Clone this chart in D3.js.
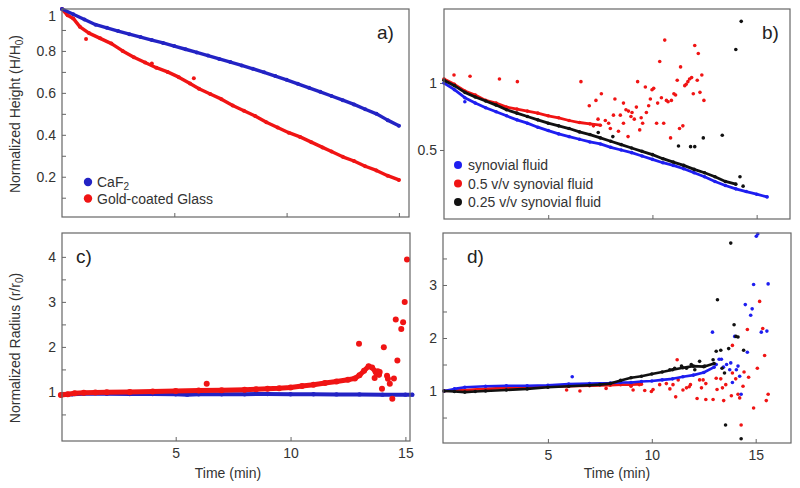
<!DOCTYPE html>
<html><head><meta charset="utf-8">
<script src="https://cdn.jsdelivr.net/npm/d3@7"></script>
<style>
html,body{margin:0;padding:0;background:#fff;}
svg{display:block;font-family:"Liberation Sans",Arial,sans-serif;}
</style></head>
<body><svg id="chart" width="800" height="488"></svg>
<script>
// ---------- DATA (time in min, normalized value) ----------
// Panel a: height
const aCaF2 = [[0,1.0],[0.5,0.975],[1,0.95],[1.5,0.925],[2,0.91],[2.5,0.895],[3,0.88],[3.5,0.866],[4,0.852],[4.5,0.838],[5,0.823],[5.5,0.808],[6,0.793],[6.5,0.778],[7,0.762],[7.5,0.747],[8,0.731],[8.5,0.715],[9,0.698],[9.5,0.68],[10,0.662],[10.5,0.643],[11,0.624],[11.5,0.605],[12,0.585],[12.5,0.565],[13,0.545],[13.5,0.522],[14,0.5],[14.5,0.47],[15,0.443]];
const aGold = [[0,1.0],[0.25,0.97],[0.5,0.955],[0.8,0.915],[1.2,0.885],[1.7,0.86],[2.2,0.835],[2.7,0.8],[3.2,0.77],[3.7,0.745],[4.2,0.72],[4.7,0.7],[5.2,0.675],[5.7,0.645],[6.1,0.62],[6.6,0.595],[7.1,0.57],[7.6,0.54],[8.1,0.515],[8.6,0.49],[9.1,0.46],[9.6,0.435],[10.1,0.41],[10.6,0.39],[11.1,0.365],[11.6,0.34],[12,0.32],[12.5,0.295],[13,0.275],[13.5,0.25],[14,0.23],[14.5,0.205],[15,0.185]];
const aGoldScatter = [[1.07,0.857],[4.0,0.74],[5.87,0.67]];

// Panel b: height, synovial fluid dilutions
const bSyn = [[0,1.0],[0.5,0.95],[1,0.89],[1.5,0.85],[2,0.815],[2.5,0.785],[3,0.755],[3.5,0.725],[4,0.7],[4.5,0.67],[5,0.645],[5.5,0.62],[6,0.6],[6.5,0.58],[7,0.56],[7.5,0.545],[8,0.52],[8.5,0.5],[9,0.48],[9.5,0.455],[10,0.43],[10.5,0.405],[11,0.385],[11.5,0.36],[12,0.33],[12.5,0.3],[13,0.265],[13.5,0.235],[14,0.21],[14.5,0.19],[15,0.17],[15.5,0.15]];
const bSynScatter = [[1.0,0.86]];
const bHalf = [[0,1.03],[0.5,0.99],[1,0.94],[1.5,0.91],[2,0.87],[2.5,0.85],[3,0.82],[3.5,0.805],[4,0.79],[4.5,0.775],[5,0.755],[5.5,0.74],[6,0.72],[6.5,0.705],[7,0.695],[7.5,0.685]];
const bHalfScatter = [[0.48,1.06],[1.25,1.05],[2.66,1.03],[3.52,1.01],[6.57,1.01],[6.97,0.83],[7.29,0.87],[7.55,0.92],[7.39,0.73],[7.17,0.68],[7.74,0.72],[7.9,0.7],[7.98,0.66],[8.13,0.76],[8.2,0.88],[8.37,0.64],[8.46,0.76],[8.61,0.85],[8.61,0.7],[8.73,0.8],[8.85,0.79],[9.02,0.78],[8.83,0.6],[8.97,0.75],[9.13,0.73],[9.23,0.82],[9.29,1.01],[9.46,0.74],[9.39,0.65],[9.53,0.7],[9.66,0.97],[9.71,0.78],[9.82,0.83],[9.9,0.88],[9.98,0.95],[10.06,0.96],[10.2,0.7],[10.25,0.85],[10.35,1.16],[10.43,0.89],[10.54,0.7],[10.59,1.32],[10.67,0.87],[10.75,0.86],[10.87,0.59],[10.91,0.87],[11.03,0.92],[11.11,0.91],[11.19,1.02],[11.3,0.66],[11.35,1.12],[11.46,0.68],[11.55,0.98],[11.62,0.99],[11.7,1.01],[11.78,1.03],[11.88,1.04],[11.96,0.92],[12.03,1.28],[12.15,1.02],[12.2,1.22],[12.28,0.93],[12.37,1.06],[12.47,0.87]];
const bQuarter = [[0,1.02],[0.5,0.98],[1,0.93],[1.5,0.895],[2,0.865],[2.5,0.835],[3,0.8],[3.5,0.775],[4,0.75],[4.5,0.725],[5,0.7],[5.5,0.68],[6,0.66],[6.5,0.635],[7,0.615],[7.5,0.59],[8,0.565],[8.5,0.54],[9,0.515],[9.5,0.49],[10,0.465],[10.5,0.435],[11,0.41],[11.5,0.385],[12,0.355],[12.5,0.33],[13,0.3],[13.5,0.265],[14,0.245]];
const bQuarterScatter = [[14.26,1.46],[14.0,1.25],[13.35,0.61],[12.44,0.59],[11.25,0.53],[11.83,0.525],[12.03,0.525],[14.2,0.3],[14.35,0.23],[7.4,0.63],[8.1,0.6]];

// Panel c: radius
const cCaF2 = [[0,0.93],[0.5,0.95],[1,0.96],[2,0.96],[3,0.955],[4,0.955],[5,0.95],[5.5,0.94],[6,0.95],[7,0.95],[8,0.95],[9,0.955],[10,0.95],[11,0.95],[12,0.945],[13,0.945],[14,0.94],[15,0.94],[15.3,0.94]];
const cGold = [[0,0.93],[0.3,0.95],[0.6,0.97],[1,0.98],[1.5,0.99],[2,0.995],[3,1.0],[4,1.01],[5,1.02],[6,1.03],[7,1.04],[8,1.05],[8.5,1.06],[9,1.07],[9.5,1.08],[10,1.1],[10.5,1.13],[11,1.16],[11.5,1.2],[12,1.23],[12.5,1.27],[12.8,1.3],[13,1.37],[13.2,1.47],[13.4,1.57],[13.55,1.54],[13.7,1.45],[13.85,1.38]];
const cGoldScatter = [[6.35,1.18],[12.98,2.07],[13.66,1.31],[13.88,1.44],[14.06,1.99],[13.98,1.07],[14.2,1.36],[14.24,1.29],[14.32,1.18],[14.43,0.85],[14.5,1.3],[14.65,1.7],[14.58,2.61],[14.82,2.4],[14.9,2.55],[14.97,3.0],[15.07,3.94],[13.75,1.4],[13.8,1.46]];

// Panel d: radius, synovial fluid dilutions
const dSyn = [[0,1.0],[0.5,1.04],[1,1.07],[2,1.09],[3,1.1],[4,1.1],[5,1.11],[6,1.13],[7,1.14],[8,1.15],[8.5,1.16],[9,1.16],[9.5,1.18],[10,1.19],[10.5,1.21],[11,1.23],[11.5,1.27],[12,1.3],[12.5,1.35],[13,1.45]];
const dSynScatter = [[6.17,1.27],[12.92,2.11],[15.03,3.92],[15.1,3.96],[14.9,3.01],[15.6,3.02],[14.5,2.63],[14.83,2.55],[14.76,2.43],[15.27,2.11],[15.54,2.13],[13.99,2.03],[14.6,1.73],[13.24,1.6],[13.35,1.6],[13.6,1.5],[13.8,1.53],[13.75,1.4],[14.07,1.4],[14.15,1.47],[14.23,1.28],[13.88,1.16],[14.3,0.94],[13.1,1.5],[13.45,1.45]];
const dHalf = [[0,1.0],[1,1.02],[2,1.04],[3,1.06],[4,1.07],[5,1.08],[6,1.09],[7,1.1],[8,1.11],[8.5,1.12],[9,1.12],[9.5,1.13]];
const dHalfScatter = [[11.22,1.59],[11.15,0.89],[12.18,0.86],[12.6,0.84],[12.95,0.84],[9.66,1.01],[9.98,0.99],[10.87,1.04],[11.67,1.06],[11.86,1.12],[12.39,1.06],[11.02,1.12],[15.19,2.69],[14.6,2.16],[15.34,2.18],[13.88,1.86],[15.43,1.67],[15.08,1.43],[13.88,1.34],[14.44,1.36],[14.66,1.26],[13.32,1.23],[14.04,1.23],[14.39,1.09],[13.56,1.12],[13.4,1.06],[13.14,1.03],[14.15,0.94],[15.6,0.94],[14.23,0.87],[13.83,0.91],[13.46,0.82],[15.51,0.82],[14.9,0.68],[14.3,0.36],[6.54,1.0],[9.1,1.02],[10.06,1.03],[10.7,1.14],[11.8,1.08],[12.3,1.21],[12.6,1.14],[13.1,1.24],[9.0,1.09],[9.4,1.12],[10.38,1.12],[11.27,1.21],[11.5,1.02],[12.47,1.21],[5.9,1.02],[7.8,1.05]];
const dQuarter = [[0,1.0],[0.5,0.99],[1,0.98],[1.5,0.99],[2,1.0],[3,1.02],[4,1.04],[5,1.07],[6,1.09],[7,1.11],[7.5,1.12],[8,1.14],[8.5,1.2],[9,1.25],[9.5,1.28],[10,1.32],[10.5,1.36],[11,1.4],[11.5,1.44],[12,1.47],[12.5,1.46],[13,1.52]];
const dQuarterScatter = [[13.16,2.72],[13.8,3.79],[13.96,2.25],[14.15,2.02],[13.7,1.8],[14.42,1.77],[13.32,1.77],[13.1,1.75],[12.95,1.59],[12.55,1.47],[12.3,1.56],[13.38,1.43],[13.5,1.34],[13.55,0.36],[14.3,0.1],[10.87,1.4],[11.1,1.43],[11.43,1.47],[11.67,1.43],[11.9,1.5],[12.07,1.4],[14.05,2.03]];

// Tick values / labels
const xTickVals = [5, 10, 15];
const aYMajor = [0.2, 0.4, 0.6, 0.8, 1];
const aYMinor = [0.1, 0.3, 0.5, 0.7, 0.9];
const bYMajor = [0.5, 1];
const cYMajor = [1, 2, 3, 4];
const cYMinor = [0.5, 1.5, 2.5, 3.5];
const dYMajor = [1, 2, 3];
const dYMinor = [0.5, 1.5, 2.5, 3.5];

const legendA = ["CaF", "Gold-coated Glass"];
const legendB = ["synovial fluid", "0.5 v/v synovial fluid", "0.25 v/v synovial fluid"];

// ---------- DRAWING ----------
const svg = d3.select("#chart");
const BLUE_A = "#2323c4", BLUE_B = "#1e1ef0", RED = "#f01414", BLACK = "#111";
const TXT = "#333", BOX = "#666";

function panel(o) {
  const x = d3.scaleLinear().domain(o.xd).range([o.x0, o.x1]);
  const y = d3.scaleLinear().domain(o.yd).range([o.y1, o.y0]);
  const g = svg.append("g");
  // minor y ticks
  if (o.yMinor) {
    g.append("g").attr("transform", `translate(${o.x0},0)`)
      .call(d3.axisLeft(y).tickValues(o.yMinor).tickSize(o.yTickIn ? -4 : 4).tickFormat(""))
      .call(s => s.select(".domain").remove())
      .call(s => s.selectAll("line").attr("stroke", BOX));
  }
  const ya = g.append("g").attr("transform", `translate(${o.x0},0)`)
    .call(d3.axisLeft(y).tickValues(o.yMajor).tickSize(o.yTickIn ? -4 : 4).tickPadding(o.yTickIn ? 6 : 3)
      .tickFormat(d3.format("~g")));
  ya.select(".domain").remove();
  ya.selectAll("line").attr("stroke", BOX);
  ya.selectAll("text").attr("fill", TXT).style("font-size", "14px").style("font-family", "Liberation Sans, Arial, sans-serif");
  if (o.topLabelShift) ya.selectAll(".tick").filter(d => d === 1).select("text").attr("dy", o.topLabelShift);
  // x ticks
  const xa = g.append("g").attr("transform", `translate(0,${o.y1})`)
    .call(d3.axisBottom(x).tickValues(xTickVals).tickSize(-4).tickPadding(7)
      .tickFormat(o.xLabels ? d3.format("d") : ""));
  xa.select(".domain").remove();
  xa.selectAll("line").attr("stroke", BOX);
  xa.selectAll("text").attr("fill", TXT).style("font-size", "14px").style("font-family", "Liberation Sans, Arial, sans-serif");

  const plot = g.append("g");
  const line = d3.line().x(d => x(d[0])).y(d => y(d[1]));
  o.series.forEach(s => {
    if (s.band) {
      plot.append("path").datum(s.band).attr("d", line).attr("fill", "none")
        .attr("stroke", s.color).attr("stroke-width", s.w).attr("stroke-linecap", "round").attr("stroke-linejoin", "round");
      plot.selectAll(null).data(s.band).join("circle")
        .attr("cx", d => x(d[0])).attr("cy", d => y(d[1])).attr("r", s.r).attr("fill", s.color);
    }
    if (s.scatter) {
      plot.selectAll(null).data(s.scatter).join("circle")
        .attr("cx", d => x(d[0])).attr("cy", d => y(d[1])).attr("r", s.r).attr("fill", s.color);
    }
  });
  // box
  g.append("rect").attr("x", o.x0).attr("y", o.y0).attr("width", o.x1 - o.x0).attr("height", o.y1 - o.y0)
    .attr("fill", "none").attr("stroke", BOX).attr("stroke-width", 1.2);
  // panel letter
  g.append("text").attr("x", o.lx).attr("y", o.ly).text(o.letter)
    .attr("fill", "#222").style("font-size", "19px");
  return {x, y, g};
}

// Panel a
panel({x0: 62, x1: 409, y0: 9, y1: 217, xd: [0, 15.45], yd: [0.008, 1.0],
  yMajor: aYMajor, yMinor: aYMinor, yTickIn: true, xLabels: false, topLabelShift: "0.85em",
  letter: "a)", lx: 377, ly: 39,
  series: [
    {band: aGold, scatter: aGoldScatter, color: RED, r: 2, w: 3.4},
    {band: aCaF2, color: BLUE_A, r: 2, w: 3.4}
  ]});

// Panel b
panel({x0: 444, x1: 790, y0: 9, y1: 219, xd: [0, 16.6], yd: [-0.015, 1.552],
  yMajor: bYMajor, yTickIn: false, xLabels: false,
  letter: "b)", lx: 762, ly: 39,
  series: [
    {band: bHalf, scatter: bHalfScatter, color: RED, r: 1.8, w: 2.8},
    {band: bSyn, scatter: bSynScatter, color: BLUE_B, r: 1.8, w: 2.8},
    {band: bQuarter, scatter: bQuarterScatter, color: BLACK, r: 1.8, w: 2.8}
  ]});

// Panel c
panel({x0: 62, x1: 410, y0: 233, y1: 441, xd: [0.05, 15.2], yd: [-0.09, 4.53],
  yMajor: cYMajor, yMinor: cYMinor, yTickIn: true, xLabels: true,
  letter: "c)", lx: 76, ly: 263,
  series: [
    {band: cCaF2, color: BLUE_A, r: 2.2, w: 4},
    {band: cGold, scatter: cGoldScatter, color: RED, r: 3, w: 5}
  ]});

// Panel d
panel({x0: 443, x1: 791, y0: 233, y1: 443, xd: [-0.05, 16.7], yd: [0.02, 3.98],
  yMajor: dYMajor, yMinor: dYMinor, yTickIn: true, xLabels: true,
  letter: "d)", lx: 467, ly: 263,
  series: [
    {band: dHalf, scatter: dHalfScatter, color: RED, r: 1.8, w: 2.6},
    {band: dSyn, scatter: dSynScatter, color: BLUE_B, r: 1.8, w: 2.6},
    {band: dQuarter, scatter: dQuarterScatter, color: BLACK, r: 1.8, w: 2.6}
  ]});

// Axis titles
function yTitle(cx, cy, main, sym, sub) {
  const t = svg.append("text").attr("transform", `translate(${cx},${cy}) rotate(-90)`)
    .attr("text-anchor", "middle").attr("fill", TXT).style("font-size", "14px");
  t.append("tspan").text(main + " (" + sym + "/" + sym.charAt(0));
  t.append("tspan").text(sub).attr("dy", 3).style("font-size", "10px");
  t.append("tspan").text(")").attr("dy", -3);
}
yTitle(20, 114, "Normalized Height", "H", "0");
yTitle(20, 348, "Normalized Radius", "r", "0");
[228, 617].forEach(cx => svg.append("text").attr("x", cx).attr("y", 478).attr("text-anchor", "middle")
  .attr("fill", TXT).style("font-size", "14px").text("Time (min)"));

// Legend a
const legAColors = [BLUE_A, RED];
legendA.forEach((lab, i) => {
  const yy = 182 + i * 16.5;
  svg.append("circle").attr("cx", 88).attr("cy", yy).attr("r", 4.2).attr("fill", legAColors[i]);
  const t = svg.append("text").attr("x", 97).attr("y", yy + 5).attr("fill", TXT).style("font-size", "14px").text(lab);
  if (i === 0) t.append("tspan").text("2").attr("dy", 3).style("font-size", "10px");
});
// Legend b
const legBColors = [BLUE_B, RED, BLACK];
legendB.forEach((lab, i) => {
  const yy = 165 + i * 18.5;
  svg.append("circle").attr("cx", 458).attr("cy", yy).attr("r", 4).attr("fill", legBColors[i]);
  svg.append("text").attr("x", 468).attr("y", yy + 5).attr("fill", TXT).style("font-size", "14px").text(lab);
});
</script></body></html>
